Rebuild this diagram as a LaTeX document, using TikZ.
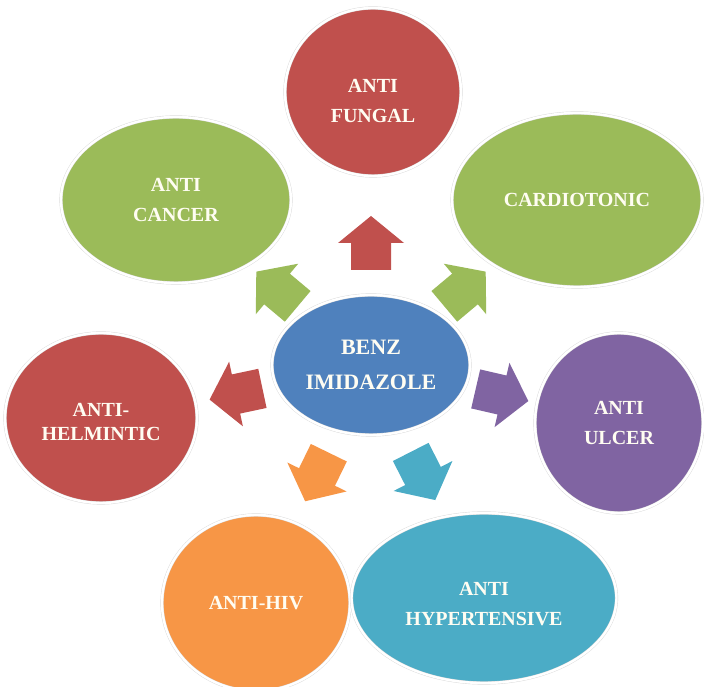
\documentclass[tikz,border=0pt]{standalone}
\usepackage{fontspec}
\setmainfont{Liberation Serif}
\usetikzlibrary{shapes.geometric}
\definecolor{redA}{HTML}{C0504D}
\definecolor{greenA}{HTML}{9BBB59}
\definecolor{blueA}{HTML}{4F81BD}
\definecolor{purpleA}{HTML}{8064A2}
\definecolor{orangeA}{HTML}{F79646}
\definecolor{tealA}{HTML}{4BACC6}
\definecolor{cream}{HTML}{FFFDF2}
\tikzset{
  bubble/.style={ellipse, inner sep=0pt, draw=gray!30, line width=0.4pt,
    double=white, double distance=2.4pt, text=cream, align=center,
    font=\fontsize{20}{30}\selectfont\bfseries},
  fat arrow/.pic={\path[pic actions] (-27,-20) -- (0,-20) -- (0,-33) -- (27,0) -- (0,33) -- (0,20) -- (-27,20) -- cycle;}
}
\begin{document}
\begin{tikzpicture}[x=1pt,y=1pt]
\useasboundingbox (0,0) rectangle (704,687);
\fill[white] (0,0) rectangle (704,687); % background
% block arrows
\pic[fill=redA, rotate=90] at (371,444) {fat arrow}; % to anti fungal
\pic[fill=greenA, rotate=140] at (277,398) {fat arrow}; % to anti cancer
\pic[fill=greenA, rotate=40] at (465,398) {fat arrow}; % to cardiotonic
\pic[fill=redA, rotate=192] at (236,293) {fat arrow}; % to anti helmintic
\pic[fill=purpleA, rotate=-13] at (502,292) {fat arrow}; % to anti ulcer
\pic[fill=orangeA, rotate=244] at (317,210) {fat arrow}; % to anti hiv
\pic[fill=tealA, rotate=-63] at (423,211) {fat arrow}; % to anti hypertensive
% bubbles
\node[bubble, fill=redA, minimum width=176, minimum height=168] (fungal) at (373,595) {\rule{0pt}{32pt}ANTI\\FUNGAL};
\node[bubble, fill=greenA, minimum width=230, minimum height=166] (cancer) at (176,487) {ANTI\\CANCER};
\node[bubble, fill=greenA, minimum width=250, minimum height=174] (cardio) at (577,487) {CARDIOTONIC};
\node[bubble, fill=blueA, minimum width=198, minimum height=140,
  font=\fontsize{22}{35}\selectfont\bfseries] (benz) at (371,322) {BENZ\\IMIDAZOLE}; % centre
\node[bubble, fill=redA, minimum width=192, minimum height=170,
  font=\fontsize{20}{24}\selectfont\bfseries] (helmintic) at (101,269) {\rule{0pt}{21pt}ANTI-\\HELMINTIC};
\node[bubble, fill=purpleA, minimum width=168, minimum height=180] (ulcer) at (619,264) {ANTI\\ULCER};
\node[bubble, fill=orangeA, minimum width=188, minimum height=176] (hiv) at (256,84) {ANTI-HIV};
\node[bubble, fill=tealA, minimum width=265, minimum height=170] (hyper) at (484,89) {\rule{0pt}{26pt}ANTI\\HYPERTENSIVE};
\end{tikzpicture}
\end{document}
